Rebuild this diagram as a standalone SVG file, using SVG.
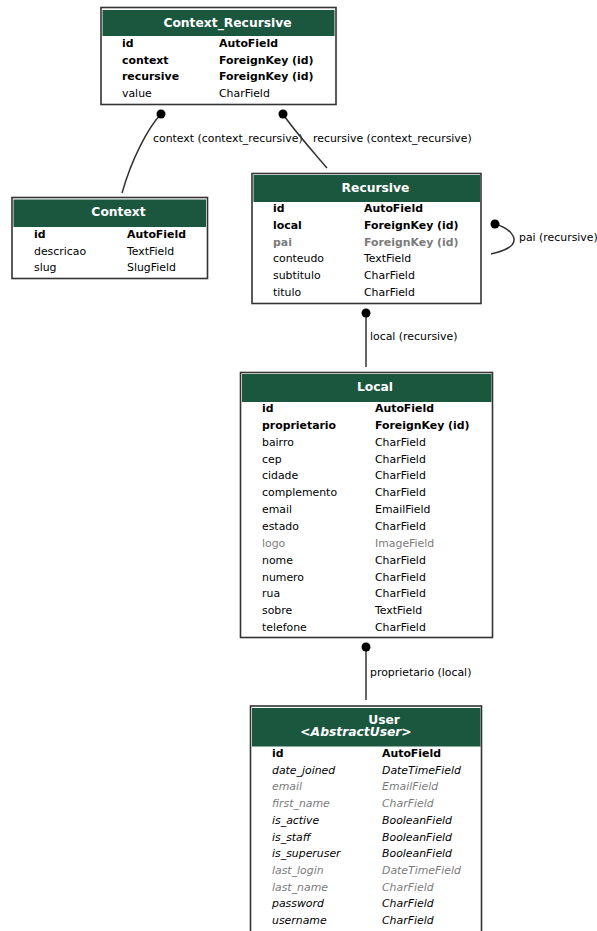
<svg xmlns="http://www.w3.org/2000/svg" width="597" height="931" viewBox="0 0 597 931">
  <style>
    .frame { fill: #ffffff; stroke: #333333; stroke-width: 1.6; }
    .head { fill: #1b563f; }
    .title { font-family: "DejaVu Sans", sans-serif; font-size: 12.3px; font-weight: bold; fill: #ffffff; text-anchor: middle; }
    .title-i { font-style: italic; }
    .f { font-family: "DejaVu Sans", sans-serif; font-size: 10.9px; fill: #000000; }
    .b { font-weight: bold; }
    .i { font-style: italic; }
    .g { fill: #7b7b7b; }
    .edge { fill: none; stroke: #333333; stroke-width: 1.5; }
    .dot { fill: #000000; }
    .lbl { font-family: "DejaVu Sans", sans-serif; font-size: 10.9px; fill: #000000; }
  </style>

  <rect width="597" height="931" fill="#ffffff"/>

  <!-- relations -->
  <g id="connectors">
    <path class="edge" d="M161,114 C148,128 132,158 122,193"/>
    <circle class="dot" cx="161" cy="114" r="4.5"/>
    <text class="lbl" x="153" y="142">context (context_recursive)</text>

    <path class="edge" d="M283,114 C292,128 310,148 327,168"/>
    <circle class="dot" cx="283" cy="114" r="4.5"/>
    <text class="lbl" x="313" y="142">recursive (context_recursive)</text>

    <path class="edge" d="M495,224 C510,228 518,238 512,245 C506,251 498,252 491,254"/>
    <circle class="dot" cx="495" cy="224" r="4.5"/>
    <text class="lbl" x="519" y="241">pai (recursive)</text>

    <path class="edge" d="M366,313 L366,367"/>
    <circle class="dot" cx="366" cy="313" r="4.5"/>
    <text class="lbl" x="370" y="340">local (recursive)</text>

    <path class="edge" d="M366,647 L366,700"/>
    <circle class="dot" cx="366" cy="647" r="4.5"/>
    <text class="lbl" x="370" y="676">proprietario (local)</text>
  </g>

  <!-- Context_Recursive -->
  <g id="context_recursive">
    <rect class="frame" x="101" y="7.5" width="235" height="97"/>
    <rect class="head" x="102.5" y="10" width="232" height="26"/>
    <text class="title" x="227.5" y="27">Context_Recursive</text>
    <text class="f b" x="122" y="47">id</text>
    <text class="f b" x="219" y="47">AutoField</text>
    <text class="f b" x="122" y="63.7">context</text>
    <text class="f b" x="219" y="63.7">ForeignKey (id)</text>
    <text class="f b" x="122" y="80.4">recursive</text>
    <text class="f b" x="219" y="80.4">ForeignKey (id)</text>
    <text class="f" x="122" y="97.1">value</text>
    <text class="f" x="219" y="97.1">CharField</text>
  </g>

  <!-- Context -->
  <g id="context">
    <rect class="frame" x="12" y="197.5" width="195.5" height="81"/>
    <rect class="head" x="13.5" y="199.5" width="192.5" height="27.5"/>
    <text class="title" x="118.5" y="216">Context</text>
    <text class="f b" x="34" y="238">id</text>
    <text class="f b" x="127" y="238">AutoField</text>
    <text class="f" x="34" y="254.5">descricao</text>
    <text class="f" x="127" y="254.5">TextField</text>
    <text class="f" x="34" y="271">slug</text>
    <text class="f" x="127" y="271">SlugField</text>
  </g>

  <!-- Recursive -->
  <g id="recursive">
    <rect class="frame" x="252" y="173.5" width="229" height="130"/>
    <rect class="head" x="253.5" y="175" width="226.5" height="27"/>
    <text class="title" x="375.5" y="192">Recursive</text>
    <text class="f b" x="273" y="212">id</text>
    <text class="f b" x="364" y="212">AutoField</text>
    <text class="f b" x="273" y="228.8">local</text>
    <text class="f b" x="364" y="228.8">ForeignKey (id)</text>
    <text class="f b g" x="273" y="245.6">pai</text>
    <text class="f b g" x="364" y="245.6">ForeignKey (id)</text>
    <text class="f" x="273" y="262.4">conteudo</text>
    <text class="f" x="364" y="262.4">TextField</text>
    <text class="f" x="273" y="279.2">subtitulo</text>
    <text class="f" x="364" y="279.2">CharField</text>
    <text class="f" x="273" y="296">titulo</text>
    <text class="f" x="364" y="296">CharField</text>
  </g>

  <!-- Local -->
  <g id="local">
    <rect class="frame" x="240.5" y="372.5" width="252" height="265"/>
    <rect class="head" x="242" y="374" width="249.5" height="28"/>
    <text class="title" x="375" y="391">Local</text>
    <text class="f b" x="262" y="412">id</text>
    <text class="f b" x="375" y="412">AutoField</text>
    <text class="f b" x="262" y="428.9">proprietario</text>
    <text class="f b" x="375" y="428.9">ForeignKey (id)</text>
    <text class="f" x="262" y="445.7">bairro</text>
    <text class="f" x="375" y="445.7">CharField</text>
    <text class="f" x="262" y="462.6">cep</text>
    <text class="f" x="375" y="462.6">CharField</text>
    <text class="f" x="262" y="479.4">cidade</text>
    <text class="f" x="375" y="479.4">CharField</text>
    <text class="f" x="262" y="496.3">complemento</text>
    <text class="f" x="375" y="496.3">CharField</text>
    <text class="f" x="262" y="513.1">email</text>
    <text class="f" x="375" y="513.1">EmailField</text>
    <text class="f" x="262" y="530">estado</text>
    <text class="f" x="375" y="530">CharField</text>
    <text class="f g" x="262" y="546.8">logo</text>
    <text class="f g" x="375" y="546.8">ImageField</text>
    <text class="f" x="262" y="563.7">nome</text>
    <text class="f" x="375" y="563.7">CharField</text>
    <text class="f" x="262" y="580.5">numero</text>
    <text class="f" x="375" y="580.5">CharField</text>
    <text class="f" x="262" y="597.4">rua</text>
    <text class="f" x="375" y="597.4">CharField</text>
    <text class="f" x="262" y="614.2">sobre</text>
    <text class="f" x="375" y="614.2">TextField</text>
    <text class="f" x="262" y="631">telefone</text>
    <text class="f" x="375" y="631">CharField</text>
  </g>

  <!-- User (continues past the bottom edge) -->
  <g id="user">
    <rect class="frame" x="250.5" y="706" width="231" height="240"/>
    <rect class="head" x="252" y="708" width="228.5" height="38.5"/>
    <text class="title" x="384" y="723.5">User</text>
    <text class="title title-i" x="356" y="736">&lt;AbstractUser&gt;</text>
    <text class="f b" x="272" y="757">id</text>
    <text class="f b" x="382" y="757">AutoField</text>
    <text class="f i" x="272" y="773.7">date_joined</text>
    <text class="f i" x="382" y="773.7">DateTimeField</text>
    <text class="f i g" x="272" y="790.4">email</text>
    <text class="f i g" x="382" y="790.4">EmailField</text>
    <text class="f i g" x="272" y="807.1">first_name</text>
    <text class="f i g" x="382" y="807.1">CharField</text>
    <text class="f i" x="272" y="823.8">is_active</text>
    <text class="f i" x="382" y="823.8">BooleanField</text>
    <text class="f i" x="272" y="840.5">is_staff</text>
    <text class="f i" x="382" y="840.5">BooleanField</text>
    <text class="f i" x="272" y="857.2">is_superuser</text>
    <text class="f i" x="382" y="857.2">BooleanField</text>
    <text class="f i g" x="272" y="873.9">last_login</text>
    <text class="f i g" x="382" y="873.9">DateTimeField</text>
    <text class="f i g" x="272" y="890.6">last_name</text>
    <text class="f i g" x="382" y="890.6">CharField</text>
    <text class="f i" x="272" y="907.3">password</text>
    <text class="f i" x="382" y="907.3">CharField</text>
    <text class="f i" x="272" y="924">username</text>
    <text class="f i" x="382" y="924">CharField</text>
  </g>
</svg>
